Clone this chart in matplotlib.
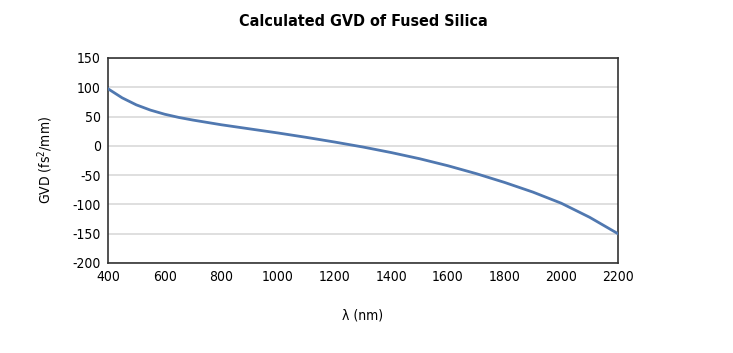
import numpy as np
import matplotlib
matplotlib.use('Agg')
import matplotlib.pyplot as plt
from matplotlib import font_manager

# wavelength (nm) and GVD (fs^2/mm)
wavelength = [400, 450, 500, 550, 600, 650, 700, 800, 900, 1000, 1100, 1200,
              1300, 1400, 1500, 1600, 1700, 1800, 1900, 2000, 2100, 2200]
gvd = [97.5, 82, 70, 61, 54, 48.5, 44, 36, 29, 22, 14.5, 6.5,
       -2, -11.5, -22, -34, -47.5, -62.5, -79, -98, -122, -150]

x_ticks = list(range(400, 2201, 200))
y_ticks = list(range(-200, 151, 50))

# pick a narrow face if one is installed
names = set(f.name for f in font_manager.fontManager.ttflist)
narrow = [n for n in ['Liberation Sans Narrow', 'DejaVu Sans Condensed'] if n in names]
plt.rcParams['font.family'] = narrow + ['DejaVu Sans']
plt.rcParams['font.stretch'] = 'condensed'
plt.rcParams['axes.unicode_minus'] = False

fig = plt.figure(figsize=(7.33, 3.53), dpi=100)
ax = fig.add_axes([0.1473, 0.2550, 0.6958, 0.5807])

ax.plot(wavelength, gvd, '-', color='#5078b0', linewidth=2.0, zorder=3)

ax.set_xlim(400, 2200)
ax.set_ylim(-200, 150)
ax.set_xticks(x_ticks)
ax.set_yticks(y_ticks)
ax.yaxis.grid(True, color='#d9d9d9', linewidth=1.2)
ax.set_axisbelow(True)
ax.tick_params(length=0, labelsize=10, pad=5)
for s in ax.spines.values():
    s.set_color('#333333')
    s.set_linewidth(1.2)

ax.set_title('Calculated GVD of Fused Silica', fontsize=11.5, fontweight='bold', pad=23)
ax.set_xlabel('\u03bb (nm)', fontsize=10, labelpad=18)
ax.set_ylabel('GVD (fs$^2$/mm)', fontsize=10, labelpad=13)

fig.savefig('out.png', dpi=100)
